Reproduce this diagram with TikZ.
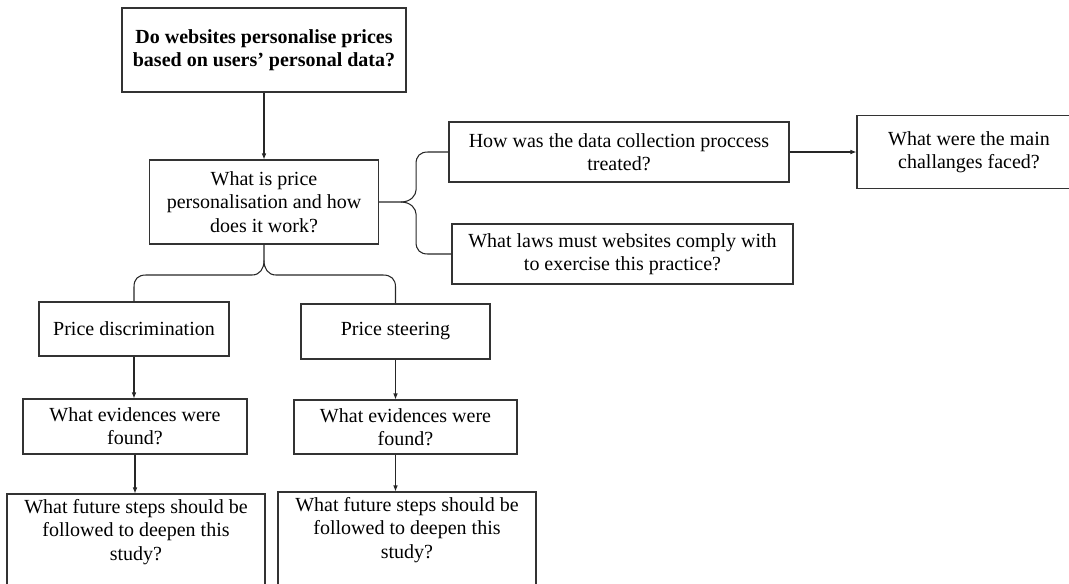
\documentclass[tikz,border=0pt]{standalone}
\usepackage{fontspec}
\setmainfont{Liberation Serif}
\usetikzlibrary{arrows.meta}
\begin{document}
\begin{tikzpicture}[x=0.75pt,y=-0.75pt,
  box/.style={draw=black!80, line width=0.8pt, align=center, inner sep=0pt, font=\fontsize{15}{17.5}\selectfont},
  txt/.style={align=center, inner sep=0pt, font=\fontsize{15}{17.5}\selectfont},
  line/.style={draw=black!85, line width=0.8pt},
  arr/.style={line, -{Latex[length=4.5pt,width=3.5pt]}},
  wh/.style 2 args={minimum width=#1*0.75pt, minimum height=#2*0.75pt}]
\useasboundingbox (0,0) rectangle (1069,583);

\node[box, wh={284}{84}, font=\fontsize{15}{17.5}\selectfont\bfseries] (top) at (264,50) {Do websites personalise prices\\based on users’ personal data?};
\node[box, wh={229}{84}] (pp) at (264,202) {What is price\\personalisation and how\\does it work?};
\node[box, wh={340}{60}] (how) at (619,152) {How was the data collection proccess\\treated?};
\node[box, wh={341}{60}] (laws) at (622.5,254) {What laws must websites comply with\\to exercise this practice?};
\node[box, wh={224}{73}] (were) at (969,152) {What were the main\\challanges faced?};
\node[box, wh={190}{54}] (disc) at (134,329) {Price discrimination};
\node[box, wh={189}{55}] (steer) at (395.5,331.5) {Price steering};
\node[box, wh={224}{55}] (evL) at (135,426.5) {What evidences were\\found?};
\node[box, wh={223}{54}] (evR) at (405.5,427) {What evidences were\\found?};
\node[box, wh={258}{100}] (futL) at (136,544) {};
\node[box, wh={258}{100}] (futR) at (407,542) {};
\node[txt] (futLt) at (136,532) {What future steps should be\\followed to deepen this\\study?};
\node[txt] (futRt) at (407,530) {What future steps should be\\followed to deepen this\\study?};

% arrows
\draw[arr] (top) -- (pp);
\draw[arr] (how.east) -- (were.west |- how.east);
\draw[arr] (disc.south) -- (disc.south |- evL.north);
\draw[arr] (evL.south) -- (evL.south |- futL.north);
\draw[arr] (steer.south) -- (steer.south |- evR.north);
\draw[arr] (evR.south -| steer.south) -- (futR.north -| steer.south);

% right brace
\draw[line] (pp.east) -- ++(22,0) coordinate (rb)
  .. controls +(10,0) and +(0,5) .. ++(15,-12)
  -- ++(0,-26)
  .. controls +(0,-8) and +(-8,0) .. ++(12,-12)
  -- (how.west);
\draw[line] (rb)
  .. controls +(10,0) and +(0,-5) .. ++(15,12)
  -- ++(0,28)
  .. controls +(0,8) and +(-8,0) .. ++(12,12)
  -- (laws.west);

% bottom brace
\draw[line] (pp.south) -- ++(0,16) coordinate (bb)
  .. controls +(0,8) and +(8,0) .. (252,275)
  -- (146,275)
  .. controls (138,275) and (134,279) .. (134,287)
  -- (disc.north);
\draw[line] (bb)
  .. controls +(0,8) and +(-8,0) .. (276,275)
  -- (383,275)
  .. controls (391,275) and (395.5,279) .. (395.5,287)
  -- (steer.north);
\end{tikzpicture}
\end{document}
